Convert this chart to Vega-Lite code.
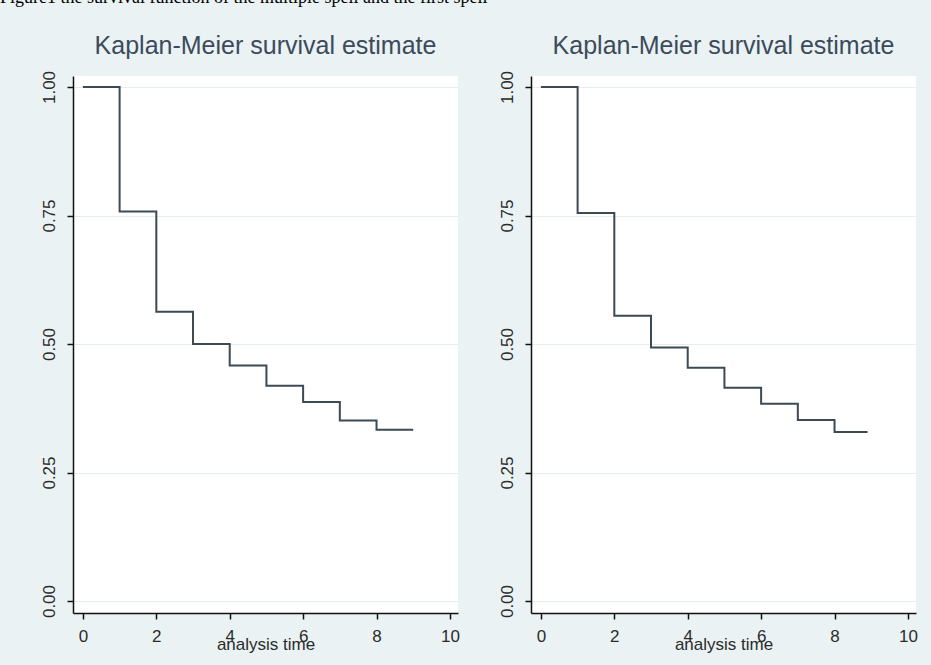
{
  "$schema": "https://vega.github.io/schema/vega-lite/v6.json",
  "background": "#EAF2F3",
  "padding": {"left": 0, "top": -11, "right": 20, "bottom": 20},
  "title": {
    "text": "Figure1 the survival function of the multiple spell and the first spell",
    "anchor": "start",
    "font": "Liberation Serif",
    "fontSize": 18,
    "fontWeight": "normal",
    "color": "black",
    "baseline": "alphabetic",
    "offset": 13,
    "dx": -40
  },
  "datasets": {
    "multiple": [
      {"t": 0, "s": 1.0},
      {"t": 1, "s": 0.758},
      {"t": 2, "s": 0.563},
      {"t": 3, "s": 0.5},
      {"t": 4, "s": 0.458},
      {"t": 5, "s": 0.419},
      {"t": 6, "s": 0.387},
      {"t": 7, "s": 0.351},
      {"t": 8, "s": 0.333},
      {"t": 9, "s": 0.333}
    ],
    "first": [
      {"t": 0, "s": 1.0},
      {"t": 1, "s": 0.755},
      {"t": 2, "s": 0.555},
      {"t": 3, "s": 0.493},
      {"t": 4, "s": 0.454},
      {"t": 5, "s": 0.415},
      {"t": 6, "s": 0.384},
      {"t": 7, "s": 0.352},
      {"t": 8, "s": 0.329},
      {"t": 8.9, "s": 0.329}
    ]
  },
  "bounds": "flush",
  "spacing": 73,
  "config": {
    "font": "Liberation Sans",
    "view": {"fill": "white", "stroke": null},
    "title": {
      "font": "Liberation Sans",
      "fontSize": 25,
      "fontWeight": "normal",
      "color": "#3c4a5c",
      "anchor": "middle",
      "baseline": "alphabetic",
      "offset": 11
    },
    "axis": {
      "domainColor": "#111111",
      "domainWidth": 1.5,
      "tickColor": "#111111",
      "tickWidth": 1.5,
      "tickSize": 6,
      "labelFont": "Liberation Sans",
      "labelFontSize": 17,
      "labelColor": "#2b2b2b",
      "titleFont": "Liberation Sans",
      "titleFontSize": 17,
      "titleFontWeight": "normal",
      "titleColor": "#2b2b2b",
      "gridColor": "#E6EDEF",
      "gridWidth": 1
    }
  },
  "hconcat": [
    {
      "width": 385,
      "height": 537,
      "title": "Kaplan-Meier survival estimate",
      "data": {"name": "multiple"},
      "mark": {"type": "line", "interpolate": "step-after", "color": "#3b4a55", "strokeWidth": 2},
      "encoding": {
        "x": {
          "field": "t",
          "type": "quantitative",
          "scale": {"domain": [-0.27, 10.22], "nice": false, "zero": false},
          "axis": {"title": "analysis time", "values": [0, 2, 4, 6, 8, 10], "grid": false, "labelPadding": 9, "titlePadding": -8, "labelFlush": false}
        },
        "y": {
          "field": "s",
          "type": "quantitative",
          "scale": {"domain": [-0.0233, 1.0214], "nice": false, "zero": false},
          "axis": {"title": null, "values": [0, 0.25, 0.5, 0.75, 1], "format": ".2f", "grid": true, "labelAngle": -90, "labelAlign": "center", "labelBaseline": "alphabetic", "labelPadding": 13, "labelFlush": false}
        }
      }
    },
    {
      "width": 385,
      "height": 537,
      "title": "Kaplan-Meier survival estimate",
      "data": {"name": "first"},
      "mark": {"type": "line", "interpolate": "step-after", "color": "#3b4a55", "strokeWidth": 2},
      "encoding": {
        "x": {
          "field": "t",
          "type": "quantitative",
          "scale": {"domain": [-0.27, 10.22], "nice": false, "zero": false},
          "axis": {"title": "analysis time", "values": [0, 2, 4, 6, 8, 10], "grid": false, "labelPadding": 9, "titlePadding": -8, "labelFlush": false}
        },
        "y": {
          "field": "s",
          "type": "quantitative",
          "scale": {"domain": [-0.0233, 1.0214], "nice": false, "zero": false},
          "axis": {"title": null, "values": [0, 0.25, 0.5, 0.75, 1], "format": ".2f", "grid": true, "labelAngle": -90, "labelAlign": "center", "labelBaseline": "alphabetic", "labelPadding": 13, "labelFlush": false}
        }
      }
    }
  ]
}
